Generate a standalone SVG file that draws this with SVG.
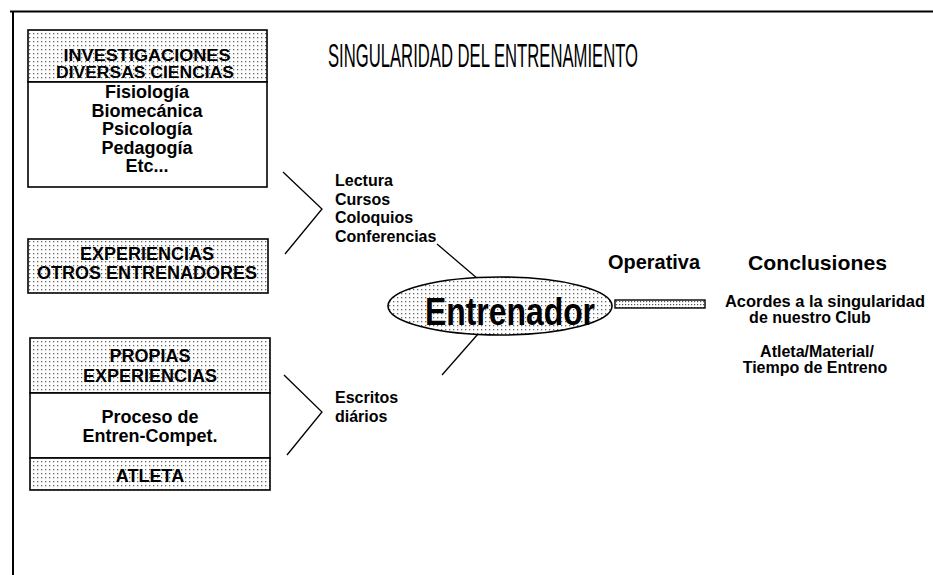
<svg xmlns="http://www.w3.org/2000/svg" width="933" height="575" viewBox="0 0 933 575">
<defs>
<pattern id="dots" width="4" height="4" patternUnits="userSpaceOnUse">
<rect width="4" height="4" fill="#fff"/>
<rect x="1" y="1" width="1.3" height="1.3" fill="#666"/>
</pattern>
<pattern id="dots2" width="3" height="3" patternUnits="userSpaceOnUse">
<rect width="3" height="3" fill="#fff"/>
<rect x="1" y="1" width="1.2" height="1.2" fill="#555"/>
</pattern>
</defs>
<style>
text{font-family:"Liberation Sans",Arial,sans-serif;fill:#000}
.b{font-weight:bold}
.box{font-size:18px;font-weight:bold;text-anchor:middle}
.hd{font-size:16px;font-weight:bold;text-anchor:middle}
.lbl{font-size:16px;font-weight:bold}
.shade{fill:url(#dots);stroke:#000;stroke-width:1.6}
.plain{fill:#fff;stroke:#000;stroke-width:1.6}
.ln{fill:none;stroke:#000;stroke-width:1.3}
</style>
<rect width="933" height="575" fill="#fff"/>
<g id="frame">
<line x1="10" y1="11.5" x2="933" y2="11.5" stroke="#000" stroke-width="2"/>
<line x1="13" y1="11" x2="13" y2="575" stroke="#000" stroke-width="2"/>
</g>
<g id="title">
<text transform="translate(328,67) scale(0.49,1)" x="0" y="0" font-size="34">SINGULARIDAD DEL ENTRENAMIENTO</text>
</g>
<g id="investigaciones">
<rect class="shade" x="28" y="30" width="239" height="52"/>
<rect class="plain" x="28" y="82" width="239" height="105"/>
<text class="hd" x="147" y="61" textLength="167" lengthAdjust="spacingAndGlyphs">INVESTIGACIONES</text>
<text class="hd" x="145" y="78" textLength="178" lengthAdjust="spacingAndGlyphs">DIVERSAS CIENCIAS</text>
<text class="box" x="147" y="98">Fisiología</text>
<text class="box" x="147" y="116.5">Biomecánica</text>
<text class="box" x="147" y="135">Psicología</text>
<text class="box" x="147" y="153.5">Pedagogía</text>
<text class="box" x="147" y="172">Etc...</text>
</g>
<g id="experiencias-otros">
<rect class="shade" x="28" y="239" width="240" height="54"/>
<text class="box" x="147" y="260">EXPERIENCIAS</text>
<text class="box" x="147" y="279" textLength="220" lengthAdjust="spacingAndGlyphs">OTROS ENTRENADORES</text>
</g>
<g id="propias">
<rect class="shade" x="30" y="338" width="240" height="55"/>
<rect class="plain" x="30" y="393" width="240" height="65"/>
<rect class="shade" x="30" y="458" width="240" height="32"/>
<text class="box" x="150" y="362">PROPIAS</text>
<text class="box" x="150" y="382">EXPERIENCIAS</text>
<text class="box" x="150" y="423">Proceso de</text>
<text class="box" x="150" y="442">Entren-Compet.</text>
<text class="box" x="150" y="482">ATLETA</text>
</g>
<g id="fuentes-lectura">
<text class="lbl" x="335" y="186">Lectura</text>
<text class="lbl" x="335" y="204.5">Cursos</text>
<text class="lbl" x="335" y="223">Coloquios</text>
<text class="lbl" x="335" y="241.5">Conferencias</text>
</g>
<g id="fuentes-escritos">
<text class="lbl" x="335" y="403">Escritos</text>
<text class="lbl" x="335" y="422">diários</text>
</g>
<g id="connectors">
<polyline class="ln" points="283,172 322,209 285,254"/>
<polyline class="ln" points="284,375 322,412 287,455"/>
<line class="ln" x1="437" y1="244" x2="478" y2="279"/>
<line class="ln" x1="478" y1="334" x2="442" y2="375"/>
</g>
<g id="entrenador">
<ellipse cx="500" cy="306" rx="112" ry="29" fill="url(#dots)" stroke="#000" stroke-width="1.6"/>
<text x="425" y="325" font-size="39" font-weight="bold" textLength="170" lengthAdjust="spacingAndGlyphs">Entrenador</text>
</g>
<g id="operativa">
<rect x="615" y="300" width="90" height="8" fill="url(#dots2)" stroke="#000" stroke-width="1.4"/>
<text class="b" x="608" y="269" font-size="20" textLength="92" lengthAdjust="spacingAndGlyphs">Operativa</text>
</g>
<g id="conclusiones">
<text class="b" x="748" y="270" font-size="21" textLength="139" lengthAdjust="spacingAndGlyphs">Conclusiones</text>
<text class="lbl" x="825" y="307" text-anchor="middle" textLength="200" lengthAdjust="spacingAndGlyphs">Acordes a la singularidad</text>
<text class="lbl" x="810" y="323" text-anchor="middle">de nuestro Club</text>
<text class="lbl" x="817" y="357" text-anchor="middle">Atleta/Material/</text>
<text class="lbl" x="815" y="373" text-anchor="middle">Tiempo de Entreno</text>
</g>
</svg>
